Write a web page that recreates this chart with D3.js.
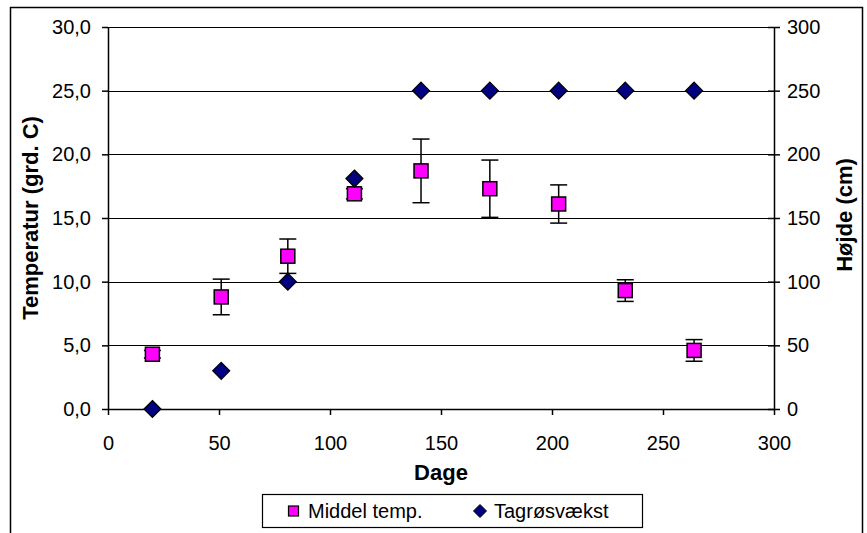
<!DOCTYPE html>
<html>
<head>
<meta charset="utf-8">
<script src="https://cdn.jsdelivr.net/npm/d3@7"></script>
<style>
  html, body { margin: 0; padding: 0; background: #fff; }
  svg { display: block; }
  text { font-family: "Liberation Sans", Arial, sans-serif; fill: #000; }
</style>
</head>
<body>
<svg id="chart" width="867" height="533"></svg>
<script>
// ---- data ----
const days = [20, 51, 81, 111, 141, 172, 203, 233, 264];
const meanTemp = [4.3, 8.8, 12.0, 16.9, 18.7, 17.3, 16.1, 9.3, 4.6];
const tempErr = [0.3, 1.4, 1.35, 0.4, 2.5, 2.25, 1.5, 0.85, 0.85];
const heightDays = [20, 51, 81, 111, 141, 172, 203, 233, 264];
const heightCm = [0, 30, 100, 181, 250, 250, 250, 250, 250];
const xTicks = [0, 50, 100, 150, 200, 250, 300];
const tempTicks = [0, 5, 10, 15, 20, 25, 30];
const heightTicks = [0, 50, 100, 150, 200, 250, 300];
const seriesNames = ["Middel temp.", "Tagrøsvækst"];
const xTitle = "Dage";
const yTitleLeft = "Temperatur (grd. C)";
const yTitleRight = "Højde (cm)";

// ---- layout ----
const W = 867, H = 533;
const m = { left: 108, right: 93, top: 27, bottom: 124 };
const pw = W - m.left - m.right, ph = H - m.top - m.bottom;
const FS = "20px";
const TFS = "22px";

const svg = d3.select("#chart");

// outer frame
svg.append("rect").attr("x", 10.5).attr("y", 7.5).attr("width", 852).attr("height", 540)
  .attr("fill", "#fff").attr("stroke", "#000").attr("stroke-width", 1.5);

const g = svg.append("g").attr("transform", `translate(${m.left},${m.top})`);

const x = d3.scaleLinear().domain([0, 300]).range([0, pw]);
const yT = d3.scaleLinear().domain([0, 30]).range([ph, 0]);
const yH = d3.scaleLinear().domain([0, 300]).range([ph, 0]);

const fmtC = d => d3.format(".1f")(d).replace(".", ",");

// gridlines
g.append("g").selectAll("line").data(tempTicks).join("line")
  .attr("x1", 0).attr("x2", pw)
  .attr("y1", d => Math.round(yT(d)) + 0.5).attr("y2", d => Math.round(yT(d)) + 0.5)
  .attr("stroke", "#000").attr("stroke-width", 1.2);

// left axis
const axL = g.append("g").call(d3.axisLeft(yT).tickValues(tempTicks).tickFormat(fmtC).tickSizeInner(6).tickSizeOuter(0).tickPadding(11));
axL.selectAll("text").style("font-size", FS);
axL.selectAll(".tick line").attr("x2", -6).attr("x1", 0).attr("stroke-width", 1.5);
axL.select(".domain").attr("stroke-width", 1.5);

// right axis
const axR = g.append("g").attr("transform", `translate(${pw},0)`)
  .call(d3.axisRight(yH).tickValues(heightTicks).tickSizeInner(6).tickSizeOuter(0).tickPadding(7));
axR.selectAll("text").style("font-size", FS);
axR.selectAll(".tick line").attr("x1", -6).attr("x2", 6).attr("stroke-width", 1.5);
axR.select(".domain").attr("stroke-width", 1.5);

// bottom axis
const axB = g.append("g").attr("transform", `translate(0,${ph})`)
  .call(d3.axisBottom(x).tickValues(xTicks).tickSizeInner(6).tickSizeOuter(0).tickPadding(21));
axB.selectAll("text").style("font-size", FS);
axB.selectAll(".tick line").attr("stroke-width", 1.5);
axB.select(".domain").attr("stroke-width", 1.5);

// axis titles
svg.append("text").attr("x", m.left + pw / 2).attr("y", 480).attr("text-anchor", "middle")
  .style("font-size", TFS).style("font-weight", "bold").text(xTitle);
svg.append("text").attr("transform", `translate(37.5,${m.top + ph / 2}) rotate(-90)`).attr("text-anchor", "middle")
  .style("font-size", TFS).style("font-weight", "bold").text(yTitleLeft);
svg.append("text").attr("transform", `translate(852,${m.top + ph / 2 - 3}) rotate(-90)`).attr("text-anchor", "middle")
  .style("font-size", TFS).style("font-weight", "bold").text(yTitleRight);

// error bars
const tempData = days.map((d, i) => ({ x: d, y: meanTemp[i], e: tempErr[i] }));
const eb = g.append("g").attr("stroke", "#000").attr("stroke-width", 1.5);
tempData.forEach(d => {
  const cx = x(d.x);
  eb.append("line").attr("x1", cx).attr("x2", cx).attr("y1", yT(d.y + d.e)).attr("y2", yT(d.y - d.e));
  eb.append("line").attr("x1", cx - 8.5).attr("x2", cx + 8.5).attr("y1", yT(d.y + d.e)).attr("y2", yT(d.y + d.e));
  eb.append("line").attr("x1", cx - 8.5).attr("x2", cx + 8.5).attr("y1", yT(d.y - d.e)).attr("y2", yT(d.y - d.e));
});

// squares
const sq = 14;
g.append("g").selectAll("rect").data(tempData).join("rect")
  .attr("x", d => x(d.x) - sq / 2).attr("y", d => yT(d.y) - sq / 2)
  .attr("width", sq).attr("height", sq)
  .attr("fill", "#FF00FF").attr("stroke", "#000").attr("stroke-width", 1.5);

// diamonds
const hData = heightDays.map((d, i) => ({ x: d, y: heightCm[i] }));
const dm = 8.5;
const diamond = (cx, cy, r) => `M${cx},${cy - r}L${cx + r},${cy}L${cx},${cy + r}L${cx - r},${cy}Z`;
g.append("g").selectAll("path").data(hData).join("path")
  .attr("d", d => diamond(x(d.x), yH(d.y), dm))
  .attr("fill", "#000080").attr("stroke", "#000").attr("stroke-width", 1.2);

// legend
const lg = svg.append("g");
lg.append("rect").attr("x", 262.5).attr("y", 494.5).attr("width", 380).attr("height", 33)
  .attr("fill", "#fff").attr("stroke", "#000").attr("stroke-width", 1.2);
lg.append("rect").attr("x", 288.5).attr("y", 506).attr("width", 10).attr("height", 10)
  .attr("fill", "#FF00FF").attr("stroke", "#000").attr("stroke-width", 1.2);
lg.append("text").attr("x", 308).attr("y", 518).style("font-size", FS).text(seriesNames[0]);
lg.append("path").attr("d", diamond(480, 511, 6.5)).attr("fill", "#000080").attr("stroke", "#000").attr("stroke-width", 1);
lg.append("text").attr("x", 494).attr("y", 518).style("font-size", FS).text(seriesNames[1]);
</script>
</body>
</html>
